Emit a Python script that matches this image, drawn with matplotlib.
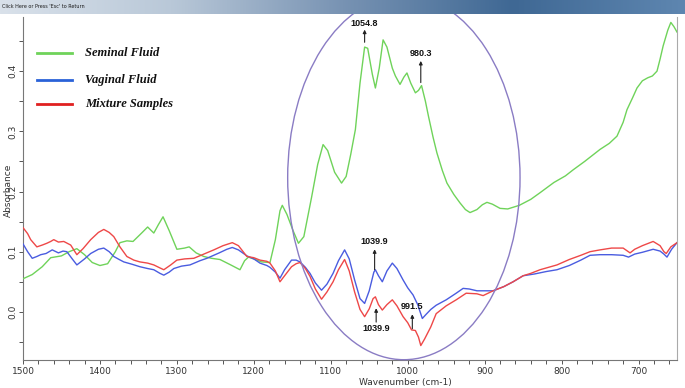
import numpy as np
import matplotlib
matplotlib.use("Agg")
import matplotlib.pyplot as plt
from matplotlib.patches import Ellipse
from matplotlib.ticker import MultipleLocator
from matplotlib.colors import LinearSegmentedColormap

# --- datos (numero de onda cm-1, absorbancia) ---
seminal_wn = [1500, 1488, 1475, 1464, 1450, 1440, 1430, 1420, 1410, 1400, 1390, 1380, 1374,
              1365, 1357, 1345, 1338, 1330, 1324, 1318, 1310, 1300, 1290, 1284, 1275, 1265,
              1255, 1244, 1230, 1218, 1212, 1207, 1198, 1190, 1179, 1172, 1166, 1163, 1157,
              1149, 1142, 1135, 1125, 1117, 1110, 1104, 1095, 1086, 1080, 1074, 1068, 1062,
              1056, 1052, 1046, 1042, 1037, 1032, 1027, 1020, 1016, 1010, 1005, 1001, 996,
              990, 986, 982, 977, 973, 967, 962, 955, 949, 940, 932, 925, 919, 910, 903, 897,
              890, 880, 870, 855, 840, 828, 810, 795, 785, 770, 750, 738, 728, 720, 715, 708,
              702, 695, 688, 682, 676, 672, 668, 662, 658, 654, 650]
seminal_abs = [0.055, 0.062, 0.075, 0.090, 0.093, 0.100, 0.105, 0.095, 0.082, 0.077, 0.080,
               0.100, 0.115, 0.118, 0.117, 0.132, 0.141, 0.131, 0.145, 0.158, 0.135, 0.104,
               0.106, 0.108, 0.098, 0.092, 0.089, 0.087, 0.078, 0.070, 0.085, 0.091, 0.087,
               0.083, 0.082, 0.120, 0.168, 0.177, 0.162, 0.135, 0.114, 0.125, 0.190, 0.245,
               0.278, 0.268, 0.232, 0.214, 0.225, 0.262, 0.303, 0.380, 0.440, 0.438, 0.395,
               0.372, 0.405, 0.452, 0.440, 0.405, 0.392, 0.378, 0.390, 0.397, 0.380, 0.364,
               0.368, 0.376, 0.350, 0.325, 0.290, 0.264, 0.235, 0.214, 0.195, 0.181, 0.170,
               0.165, 0.170, 0.178, 0.182, 0.179, 0.172, 0.171, 0.177, 0.187, 0.198, 0.215,
               0.226, 0.236, 0.250, 0.270, 0.280, 0.292, 0.315, 0.336, 0.355, 0.372, 0.384,
               0.389, 0.392, 0.400, 0.420, 0.442, 0.468, 0.481, 0.474, 0.465]

vaginal_wn = [1500, 1494, 1488, 1482, 1477, 1470, 1462, 1454, 1448, 1443, 1436, 1430, 1420,
              1412, 1402, 1395, 1388, 1382, 1375, 1369, 1358, 1348, 1338, 1330, 1322, 1317,
              1310, 1304, 1294, 1283, 1270, 1261, 1245, 1235, 1228, 1220, 1209, 1200, 1192,
              1183, 1179, 1172, 1166, 1160, 1151, 1145, 1140, 1133, 1127, 1120, 1112, 1105,
              1097, 1090, 1082, 1076, 1069, 1062, 1056, 1050, 1044, 1042, 1038, 1033, 1027,
              1020, 1014, 1006, 1000, 993, 987, 981, 976, 970, 963, 950, 937, 928, 920, 910,
              902, 889, 875, 863, 850, 835, 820, 806, 790, 775, 763, 750, 735, 720, 713, 705,
              695, 681, 672, 667, 663, 657, 650]
vaginal_abs = [0.113, 0.100, 0.089, 0.092, 0.095, 0.097, 0.103, 0.098, 0.101, 0.100, 0.088,
               0.078, 0.088, 0.097, 0.104, 0.106, 0.100, 0.092, 0.087, 0.083, 0.079, 0.075,
               0.072, 0.070, 0.064, 0.061, 0.066, 0.072, 0.076, 0.078, 0.085, 0.089, 0.098,
               0.104, 0.107, 0.103, 0.093, 0.088, 0.081, 0.077, 0.074, 0.066, 0.056, 0.070,
               0.086, 0.086, 0.083, 0.074, 0.064, 0.048, 0.036, 0.046, 0.064, 0.085, 0.103,
               0.088, 0.053, 0.022, 0.014, 0.035, 0.066, 0.070, 0.060, 0.050, 0.068, 0.081,
               0.072, 0.053, 0.040, 0.028, 0.012, -0.011, -0.004, 0.004, 0.011, 0.020, 0.031,
               0.039, 0.038, 0.035, 0.035, 0.035, 0.042, 0.050, 0.060, 0.063, 0.067, 0.070,
               0.077, 0.086, 0.094, 0.095, 0.095, 0.094, 0.091, 0.096, 0.099, 0.104, 0.101,
               0.096, 0.091, 0.104, 0.115]

mezcla_wn = [1500, 1494, 1490, 1482, 1475, 1469, 1464, 1460, 1454, 1447, 1438, 1430, 1422,
             1412, 1402, 1395, 1388, 1382, 1374, 1365, 1356, 1348, 1338, 1330, 1322, 1317,
             1308, 1300, 1290, 1278, 1265, 1252, 1240, 1228, 1220, 1209, 1200, 1192, 1183,
             1179, 1172, 1166, 1160, 1151, 1145, 1140, 1133, 1127, 1120, 1112, 1105, 1097,
             1090, 1082, 1076, 1069, 1062, 1056, 1050, 1045, 1042, 1038, 1033, 1027, 1020,
             1014, 1006, 1000, 995, 990, 986, 983, 978, 970, 963, 950, 937, 924, 910, 902,
             889, 875, 863, 850, 840, 828, 806, 790, 775, 763, 750, 735, 720, 711, 705, 695,
             681, 672, 667, 664, 658, 650]
mezcla_abs = [0.140, 0.130, 0.120, 0.108, 0.111, 0.114, 0.117, 0.120, 0.116, 0.117, 0.111,
              0.095, 0.105, 0.120, 0.132, 0.137, 0.132, 0.125, 0.108, 0.092, 0.086, 0.083,
              0.081, 0.078, 0.073, 0.070, 0.078, 0.086, 0.088, 0.089, 0.096, 0.103, 0.110,
              0.115, 0.110, 0.092, 0.090, 0.086, 0.084, 0.081, 0.068, 0.050, 0.060, 0.075,
              0.080, 0.082, 0.072, 0.059, 0.038, 0.021, 0.033, 0.050, 0.070, 0.087, 0.068,
              0.033, 0.004, -0.008, 0.005, 0.022, 0.025, 0.012, 0.003, 0.012, 0.020, 0.010,
              -0.008, -0.018, -0.030, -0.031, -0.042, -0.056, -0.045, -0.025, -0.003, 0.010,
              0.020, 0.031, 0.030, 0.027, 0.035, 0.042, 0.050, 0.060, 0.064, 0.070, 0.078,
              0.087, 0.094, 0.100, 0.103, 0.106, 0.106, 0.098, 0.104, 0.110, 0.117, 0.110,
              0.100, 0.097, 0.108, 0.115]

etiquetas_serie = ['Seminal Fluid', 'Vaginal Fluid', 'Mixture Samples']

# picos marcados: (texto, x, y_texto, y_cola, y_punta)
picos = [('1054.8', 1056, 0.480, 0.448, 0.469),
         ('980.3', 983, 0.429, 0.381, 0.417),
         ('1039.9', 1043, 0.117, 0.070, 0.104),
         ('1039.9', 1041, -0.028, -0.017, 0.006),
         ('991.5', 994, 0.009, -0.028, -0.004)]

# --- figura ---
fig = plt.figure(figsize=(6.85, 3.88), dpi=100)
fig.patch.set_facecolor('white')
ax = fig.add_axes([23 / 685, 28 / 388, 654 / 685, 343 / 388])

c_verde, c_azul, c_rojo = '#6fd35a', '#4a5ce0', '#ee4848'
ax.plot(seminal_wn, seminal_abs, color=c_verde, lw=1.0, zorder=3)
ax.plot(vaginal_wn, vaginal_abs, color=c_azul, lw=1.0, zorder=3)
ax.plot(mezcla_wn, mezcla_abs, color=c_rojo, lw=1.0, zorder=3)

ax.set_xlim(1500, 650)
ax.set_ylim(-0.08, 0.49)

ax.xaxis.set_major_locator(MultipleLocator(100))
ax.xaxis.set_minor_locator(MultipleLocator(20))
ax.yaxis.set_major_locator(MultipleLocator(0.1))
ax.yaxis.set_minor_locator(MultipleLocator(0.05))
ax.yaxis.set_major_formatter(plt.FuncFormatter(lambda v, p: f'{v:.1f}'))
ax.tick_params(which='both', direction='out', length=3, width=0.7, color='#555555')
ax.tick_params(axis='x', labelsize=6.5, pad=2, labelcolor='#333333')
ax.tick_params(axis='y', labelsize=6.5, pad=1, labelcolor='#333333', labelrotation=90)
for lab in ax.get_yticklabels():
    lab.set_va('center')

for s in ['left', 'bottom']:
    ax.spines[s].set_color('#777777')
    ax.spines[s].set_linewidth(0.8)
ax.spines['right'].set_color('#aaaaaa')
ax.spines['right'].set_linewidth(0.8)
ax.spines['top'].set_visible(False)

# titulos de ejes colocados a mano
fig.text(405 / 685, 1 - 382 / 388, 'Wavenumber (cm-1)', fontsize=6.5, color='#333333',
         ha='center', va='center')
fig.text(8 / 685, 1 - 190 / 388, 'Absorbance', fontsize=6.5, color='#333333',
         ha='center', va='center', rotation=90)

# leyenda dibujada a mano como en la captura
leg_y = [0.895, 0.815, 0.745]
for col, txt, yy in zip([c_verde, '#2a62d8', '#e02020'], etiquetas_serie, leg_y):
    ax.plot([0.022, 0.075], [yy, yy], transform=ax.transAxes, color=col, lw=2, clip_on=False)
    ax.text(0.095, yy, txt, transform=ax.transAxes, va='center', ha='left',
            fontsize=9, fontweight='bold', fontstyle='italic',
            family='Liberation Serif', color='#111111')

# elipse que resalta la region
elip = Ellipse((1005, 0.223), width=302, height=0.605, fill=False,
               edgecolor='#8a7cc4', lw=1.0, clip_on=False, zorder=4)
ax.add_patch(elip)

# flechas de los picos
for txt, xx, yt, ycola, ypunta in picos:
    ax.annotate('', xy=(xx, ypunta), xytext=(xx, ycola),
                arrowprops=dict(arrowstyle='-|>', color='#222222', lw=0.8,
                                mutation_scale=5, shrinkA=0, shrinkB=0), zorder=5)
    ax.text(xx, yt, txt, ha='center', va='center', fontsize=6.5, fontweight='bold',
            family='Liberation Sans', color='#111111', zorder=5)

# barra superior de la ventana
bar = fig.add_axes([0, 1 - 14 / 388, 1, 14 / 388])
cmap = LinearSegmentedColormap.from_list('barra', ['#d9e1ea', '#b9c8d8', '#7893b3', '#3f6894', '#5e86b0'])
bar.imshow(np.linspace(0, 1, 256)[None, :], aspect='auto', cmap=cmap, extent=[0, 1, 0, 1])
bar.set_axis_off()
bar.text(0.003, 0.5, "Click Here or Press 'Esc' to Return", fontsize=3.5,
         va='center', ha='left', color='#1a1a1a', transform=bar.transAxes)

fig.savefig('out.png', dpi=100)
